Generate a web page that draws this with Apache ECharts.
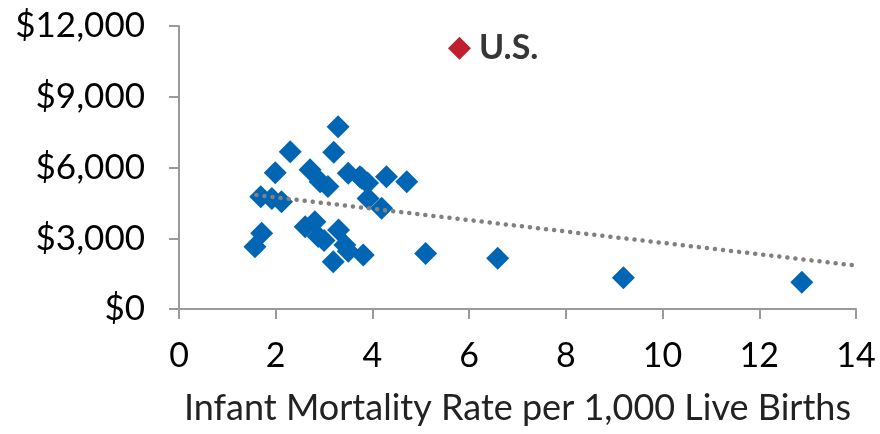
<!DOCTYPE html>
<html>
<head>
<meta charset="utf-8">
<script src="https://cdn.jsdelivr.net/npm/echarts@6/dist/echarts.min.js"></script>
<style>
  html, body { margin: 0; padding: 0; background: #fff; }
  #chart { width: 880px; height: 434px; }
</style>
</head>
<body>
<div id="chart"></div>
<script>
// infant mortality (per 1,000) vs spending, other countries
const otherRates = [1.57, 1.71, 1.69, 1.92, 2.12, 1.99, 2.30, 2.71, 2.92, 3.08, 3.20, 3.29, 3.50, 3.74, 3.78, 3.90, 3.91, 4.19, 4.29, 4.71,
  2.61, 2.81, 2.88, 3.00, 3.30, 3.43, 3.50, 3.19, 3.81, 5.10, 6.59, 9.19, 12.88]
const otherSpend = [2640, 3210, 4760, 4690, 4550, 5780, 6670, 5900, 5400, 5190, 6650, 7730, 5760, 5610, 5540, 5340, 4690, 4270, 5610, 5400,
  3490, 3700, 3070, 2900, 3350, 2710, 2450, 2000, 2290, 2350, 2150, 1330, 1130]

// U.S. point
const usRate = 5.8
const usSpend = 11060

// trend line endpoints
const trendX = [1.6, 14]
const trendY = [4830, 1840]

const xTicks = [0, 2, 4, 6, 8, 10, 12, 14]
const yTicks = [0, 3000, 6000, 9000, 12000]

const font = 'Lato, "Noto Sans", sans-serif'

const chart = echarts.init(document.getElementById('chart'))

chart.setOption({
  animation: false,
  grid: { left: 179, right: 24, top: 26, bottom: 125 },
  xAxis: {
    type: 'value',
    min: xTicks[0],
    max: xTicks[xTicks.length - 1],
    interval: 2,
    splitLine: { show: false },
    axisLine: { lineStyle: { color: '#9a9a9a', width: 2 } },
    axisTick: { show: true, length: 10, lineStyle: { color: '#9a9a9a', width: 2 } },
    axisLabel: { color: '#000', fontSize: 34, fontFamily: font, margin: 30 },
    name: 'Infant Mortality Rate per 1,000 Live Births',
    nameLocation: 'middle',
    nameGap: 81,
    nameTextStyle: { color: '#222', fontSize: 36, fontFamily: font }
  },
  yAxis: {
    type: 'value',
    min: yTicks[0],
    max: yTicks[yTicks.length - 1],
    interval: 3000,
    splitLine: { show: false },
    axisLine: { show: true, lineStyle: { color: '#9a9a9a', width: 2 } },
    axisTick: { show: true, length: 10, lineStyle: { color: '#9a9a9a', width: 2 } },
    axisLabel: {
      color: '#000', fontSize: 35, fontFamily: font, margin: 34,
      formatter: (v) => '$' + v.toLocaleString('en-US')
    }
  },
  series: [
    {
      type: 'scatter',
      symbol: 'diamond',
      symbolSize: 23,
      z: 2,
      itemStyle: { color: '#0066b3', opacity: 1 },
      data: otherRates.map((x, i) => [x, otherSpend[i]])
    },
    {
      // dotted trend line sits on top of the markers
      type: 'line',
      data: trendX.map((x, i) => [x, trendY[i]]),
      symbol: 'none',
      z: 3,
      lineStyle: { color: '#808080', width: 4.5, type: [0.1, 8], cap: 'round' }
    },
    {
      type: 'scatter',
      symbol: 'diamond',
      symbolSize: 23,
      z: 4,
      itemStyle: { color: '#c01f2f', opacity: 1 },
      label: {
        show: true,
        position: 'right',
        distance: 8,
        formatter: 'U.S.',
        color: '#363636',
        fontSize: 34,
        fontWeight: 'bold',
        fontFamily: font
      },
      data: [[usRate, usSpend]]
    }
  ]
})
</script>
</body>
</html>
